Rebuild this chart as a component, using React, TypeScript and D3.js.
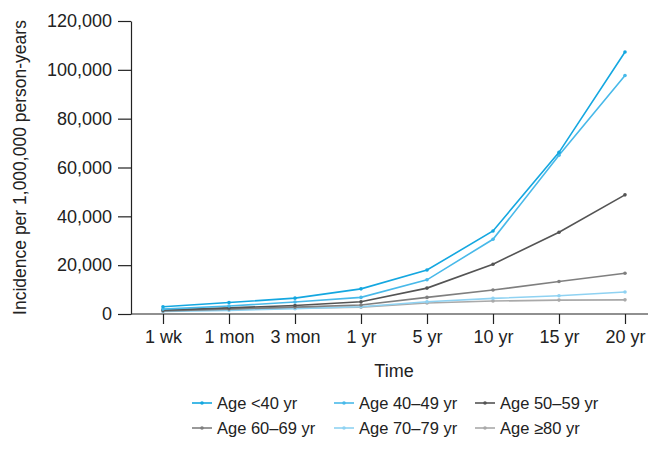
import * as d3 from 'd3';
import React, { useEffect, useRef } from 'react';

const categories = ['1 wk', '1 mon', '3 mon', '1 yr', '5 yr', '10 yr', '15 yr', '20 yr'];
const yTicks = [0, 20000, 40000, 60000, 80000, 100000, 120000];

const age40 = [3000, 4700, 6500, 10300, 18000, 34000, 66200, 107300];
const age4049 = [2000, 3300, 4900, 6800, 14000, 30600, 65000, 97700];
const age5059 = [1600, 2500, 3500, 5000, 10600, 20400, 33500, 48800];
const age6069 = [1300, 2000, 2800, 3700, 6800, 9800, 13300, 16700];
const age7079 = [1000, 1500, 2200, 3000, 5000, 6400, 7500, 9000];
const age80 = [1800, 2000, 2400, 2800, 4500, 5300, 5700, 5800];

const seriesNames = ['Age <40 yr', 'Age 40\u201349 yr', 'Age 50\u201359 yr', 'Age 60\u201369 yr', 'Age 70\u201379 yr', 'Age \u226580 yr'];
const seriesValues = [age40, age4049, age5059, age6069, age7079, age80];
const seriesColors = ['#14a7e0', '#48b9e9', '#545454', '#7f7f7f', '#8fd2f2', '#a9a9a9'];

const LineChart: React.FC = () => {
  const svgRef = useRef<SVGSVGElement | null>(null);

  useEffect(() => {
    const svg = d3.select(svgRef.current);
    const width = 670;
    const height = 450;
    const margin = { top: 21, left: 131, bottom: 136, right: 20 };
    const font = 'Liberation Sans, Arial, sans-serif';

    svg.attr('width', width).attr('height', height).style('display', 'block');
    svg.selectAll('*').remove();

    const x = d3
      .scalePoint<string>()
      .domain(categories)
      .range([163, 625]);

    const y = d3
      .scaleLinear()
      .domain([0, 120000])
      .range([height - margin.bottom, margin.top]);

    const xAxis = svg
      .append('g')
      .attr('transform', `translate(0,${height - margin.bottom})`)
      .call(d3.axisBottom(x).tickSize(10).tickPadding(6).tickSizeOuter(0));
    xAxis.select('.domain').attr('d', `M${margin.left},0H648`);
    xAxis.selectAll('text').style('font-size', '18px').style('font-family', font).attr('fill', '#222');
    xAxis.selectAll('line, path').attr('stroke', '#222').attr('stroke-width', 1.2);

    const yAxis = svg
      .append('g')
      .attr('transform', `translate(${margin.left},0)`)
      .call(
        d3
          .axisLeft(y)
          .tickValues(yTicks)
          .tickSize(13)
          .tickPadding(6)
          .tickSizeOuter(0)
          .tickFormat((d) => d3.format(',')(d as number)),
      );
    yAxis.selectAll('text').style('font-size', '18px').style('font-family', font).attr('fill', '#222');
    yAxis.selectAll('line, path').attr('stroke', '#222').attr('stroke-width', 1.2);

    svg
      .append('text')
      .attr('x', 394)
      .attr('y', 377)
      .attr('text-anchor', 'middle')
      .style('font-size', '18px')
      .style('font-family', font)
      .attr('fill', '#222')
      .text('Time');

    svg
      .append('text')
      .attr('transform', `translate(26,${(margin.top + height - margin.bottom) / 2}) rotate(-90)`)
      .attr('text-anchor', 'middle')
      .style('font-size', '17.5px')
      .style('font-family', font)
      .attr('fill', '#222')
      .text('Incidence per 1,000,000 person-years');

    const line = d3
      .line<number>()
      .x((_, i) => x(categories[i])!)
      .y((d) => y(d));

    // draw bottom series first so the blue ones sit on top
    for (let s = seriesValues.length - 1; s >= 0; s--) {
      const g = svg.append('g');
      g.append('path')
        .datum(seriesValues[s])
        .attr('fill', 'none')
        .attr('stroke', seriesColors[s])
        .attr('stroke-width', 1.6)
        .attr('d', line);
      g.selectAll('circle')
        .data(seriesValues[s])
        .join('circle')
        .attr('cx', (_, i) => x(categories[i])!)
        .attr('cy', (d) => y(d))
        .attr('r', 1.8)
        .attr('fill', seriesColors[s]);
    }

    const legendX = [192, 334, 475];
    const legendY = [403, 428];
    seriesNames.forEach((name, i) => {
      const lx = legendX[i % 3];
      const ly = legendY[Math.floor(i / 3)];
      const g = svg.append('g');
      g.append('line')
        .attr('x1', lx)
        .attr('x2', lx + 20)
        .attr('y1', ly)
        .attr('y2', ly)
        .attr('stroke', seriesColors[i])
        .attr('stroke-width', 1.6);
      g.append('circle').attr('cx', lx + 10).attr('cy', ly).attr('r', 1.8).attr('fill', seriesColors[i]);
      g.append('text')
        .attr('x', lx + 25)
        .attr('y', ly)
        .attr('dy', '0.35em')
        .style('font-size', '16.5px')
        .style('font-family', font)
        .attr('fill', '#222')
        .text(name);
    });
  }, []);

  return <svg ref={svgRef}></svg>;
};

export default function App() {
  return (
    <div style={{ margin: -8 }}>
      <LineChart />
    </div>
  );
}
